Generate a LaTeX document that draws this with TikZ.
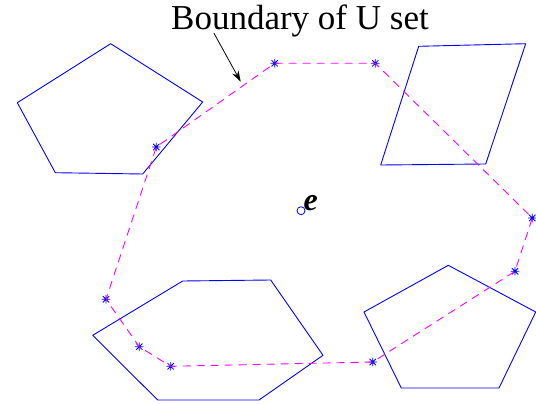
\documentclass[tikz,border=0pt]{standalone}
\usepackage{fontspec}
\setmainfont{Liberation Serif}
\usetikzlibrary{arrows.meta}
\definecolor{bndpink}{RGB}{255,0,255}
\definecolor{cellblue}{RGB}{0,0,255}
\begin{document}
\begin{tikzpicture}[x=1pt, y=-1pt, line join=round, line cap=round, >={Stealth[length=11pt,width=7pt]},
  cell/.style={draw=cellblue, line width=0.9pt},
  bound/.style={draw=bndpink, line width=0.9pt, dash pattern=on 8pt off 6pt, line cap=butt},
  ustar/.pic={\draw[cellblue, line width=0.8pt] (-4,0)--(4,0) (0,-4)--(0,4) (-3,-3)--(3,3) (-3,3)--(3,-3);}]
	\useasboundingbox (0,0) rectangle (536,404);
	% cells
	\draw[cell] (110.7,43.7)--(202.7,102)--(142.7,174)--(55.3,172.7)--(17.3,102.7)--cycle;
	\draw[cell] (418.7,46.3)--(525.7,43.7)--(485.7,164)--(380.7,165)--cycle;
	\draw[cell] (182.7,281)--(270.7,280)--(323,355.3)--(259,400)--(157.7,400)--(92.7,335.3)--cycle;
	\draw[cell] (448.3,265.3)--(535.7,312)--(499,388)--(401.3,388)--(364,312)--cycle;
	% boundary points
	\coordinate (U1) at (274.7,63.3);
	\coordinate (U2) at (375.3,63.3);
	\coordinate (U3) at (532.3,218);
	\coordinate (U4) at (515,271.3);
	\coordinate (U5) at (372.7,362);
	\coordinate (U6) at (170.7,366.3);
	\coordinate (U7) at (139.3,346.7);
	\coordinate (U8) at (106,299.3);
	\coordinate (U9) at (156.3,147);
	\foreach \p in {U1,U2,U3,U4,U5,U6,U7,U8,U9}
		\pic at (\p) {ustar};
	\draw[bound] (U1)--(U2)--(U3)--(U4)--(U5)--(U6)--(U7)--(U8)--(U9)--cycle;
	% centre
	\draw[cellblue, line width=0.8pt] (301,210.7) coordinate (E) circle (4);
	\node[anchor=base west, inner sep=0pt, font=\fontsize{32}{32}\selectfont\bfseries\itshape] (elabel) at (303.5,210) {e};
	% label
	\node[anchor=base west, inner sep=0pt, font=\fontsize{35}{40}\selectfont] (title) at (171,30) {Boundary of U set};
	\coordinate (tail) at (214,33.3);
	\coordinate (tip) at (240.7,81.7);
	\draw[->, line width=0.8pt] (tail)--(tip);
\end{tikzpicture}
\end{document}
